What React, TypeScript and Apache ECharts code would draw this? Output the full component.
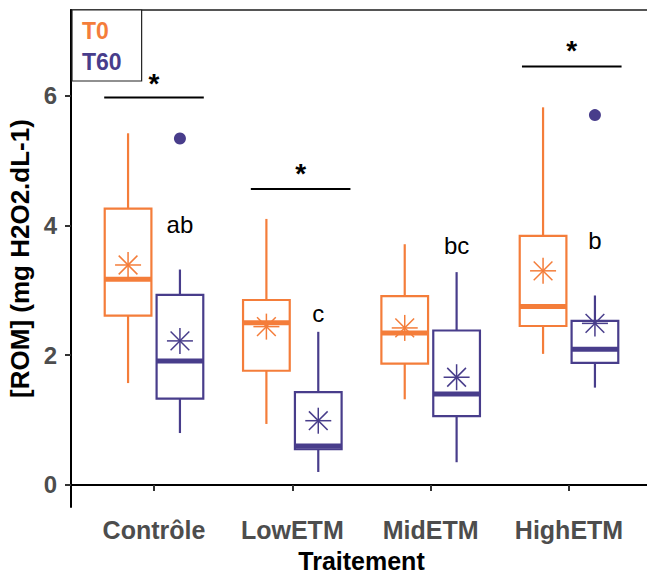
import React, { useEffect, useRef } from "react";
import * as echarts from "echarts";

// ---------- data ----------
const categories = ["Contrôle", "LowETM", "MidETM", "HighETM"];
const groups = ["T0", "T60"];

// [min whisker, Q1, median, Q3, max whisker]
const t0Stats = [
  [1.57, 2.61, 3.17, 4.26, 5.42],
  [0.94, 1.76, 2.5, 2.85, 4.1],
  [1.32, 1.87, 2.34, 2.91, 3.71],
  [2.02, 2.45, 2.75, 3.84, 5.82],
];
const t60Stats = [
  [0.8, 1.33, 1.91, 2.93, 3.32],
  [0.2, 0.55, 0.6, 1.43, 2.36],
  [0.35, 1.06, 1.4, 2.38, 3.28],
  [1.5, 1.88, 2.09, 2.53, 2.92],
];
const t0Means = [3.39, 2.44, 2.42, 3.3];
const t60Means = [2.22, 0.99, 1.66, 2.49];
// outliers: [category index, value]
const t60Outliers = [
  [0, 5.34],
  [3, 5.7],
];

// significance brackets between T0 and T60
const sigCategory = [0, 1, 3];
const sigCenterShift = [0.0, 0.06, 0.02];
const sigLineY = [5.97, 4.56, 6.45];
const sigStarY = [6.19, 4.8, 6.69];
const sigLabel = ["*", "*", "*"];

// letters of post-hoc groups (T60)
const letters = ["ab", "c", "bc", "b"];
const letterY = [4.01, 2.64, 3.69, 3.77];

const yTicks = [0, 2, 4, 6];

// ---------- style ----------
const ORANGE = "#F47D3A";
const PURPLE = "#483D8B";
const FONT = "'Liberation Sans', Arial, Helvetica, sans-serif";
const DODGE = 0.1875;
const BOX_W = 0.3375;
const SIG_HALF = 0.36;

function boxRenderer(color: string) {
  return (params: any, api: any) => {
    const x = api.value(0);
    const lo = api.coord([x, api.value(1)]);
    const q1 = api.coord([x, api.value(2)]);
    const med = api.coord([x, api.value(3)]);
    const q3 = api.coord([x, api.value(4)]);
    const hi = api.coord([x, api.value(5)]);
    const mean = api.coord([x, api.value(6)]);
    const hw = api.size([BOX_W, 0])[0] / 2;
    const cx = med[0];
    const r = 13;
    const d = r * 0.72;
    const ls = { stroke: color, lineWidth: 2.2 };
    const ss = { stroke: color, lineWidth: 1.5 };
    return {
      type: "group",
      children: [
        { type: "line", shape: { x1: cx, y1: q3[1], x2: cx, y2: hi[1] }, style: ls },
        { type: "line", shape: { x1: cx, y1: q1[1], x2: cx, y2: lo[1] }, style: ls },
        {
          type: "rect",
          shape: { x: cx - hw, y: q3[1], width: hw * 2, height: q1[1] - q3[1] },
          style: { fill: "#fff", stroke: color, lineWidth: 2.2 },
        },
        {
          type: "line",
          shape: { x1: cx - hw, y1: med[1], x2: cx + hw, y2: med[1] },
          style: { stroke: color, lineWidth: 5 },
        },
        { type: "line", shape: { x1: cx - r, y1: mean[1], x2: cx + r, y2: mean[1] }, style: ss },
        { type: "line", shape: { x1: cx, y1: mean[1] - r, x2: cx, y2: mean[1] + r }, style: ss },
        { type: "line", shape: { x1: cx - d, y1: mean[1] - d, x2: cx + d, y2: mean[1] + d }, style: ss },
        { type: "line", shape: { x1: cx - d, y1: mean[1] + d, x2: cx + d, y2: mean[1] - d }, style: ss },
      ],
    };
  };
}

export default function App() {
  const ref = useRef<HTMLDivElement>(null);
  useEffect(() => {
    document.body.style.margin = "0";
    if (!ref.current) return;
    const chart = echarts.init(ref.current, undefined, { renderer: "svg" });

    const t0Data = categories.map((_, i) => [i + 1 - DODGE, ...t0Stats[i], t0Means[i]]);
    const t60Data = categories.map((_, i) => [i + 1 + DODGE, ...t60Stats[i], t60Means[i]]);
    const outlierData = t60Outliers.map(([c, v]) => [c + 1 + DODGE, v]);
    const sigData = sigCategory.map((c, k) => [c + 1 + sigCenterShift[k], sigLineY[k], sigStarY[k], k]);
    const letterData = categories.map((_, i) => [i + 1 + DODGE, letterY[i], i]);

    const option: any = {
      animation: false,
      backgroundColor: "#fff",
      textStyle: { fontFamily: FONT },
      grid: { left: 71, top: 10, width: 581, height: 497, containLabel: false, outerBoundsMode: "none" },
      legend: {
        orient: "vertical",
        left: 72,
        top: 10,
        itemWidth: 0,
        itemHeight: 0,
        itemGap: 8,
        padding: [9, 20, 8, 5],
        borderColor: "#222",
        borderWidth: 1.2,
        backgroundColor: "#fff",
        selectedMode: false,
        textStyle: { fontSize: 23, fontWeight: "bold", fontFamily: FONT },
        data: [
          { name: groups[0], textStyle: { color: ORANGE } },
          { name: groups[1], textStyle: { color: PURPLE } },
        ],
      },
      xAxis: {
        type: "value",
        min: 0.4,
        max: 4.6,
        name: "Traitement",
        nameLocation: "middle",
        nameGap: 41,
        nameTextStyle: { fontSize: 25, fontWeight: "bold", color: "#000", fontFamily: FONT },
        axisLine: { show: true, lineStyle: { color: "#000", width: 2 } },
        axisTick: { show: true, length: 6, lineStyle: { color: "#333", width: 2 }, customValues: [1, 2, 3, 4] },
        axisLabel: {
          customValues: [1, 2, 3, 4],
          formatter: (v: number) => categories[Math.round(v) - 1] ?? "",
          fontSize: 25,
          fontWeight: "bold",
          color: "#4d4d4d",
          margin: 10,
          fontFamily: FONT,
        },
        splitLine: { show: false },
      },
      yAxis: {
        type: "value",
        min: -0.34,
        max: 7.32,
        name: "[ROM] (mg H2O2.dL-1)",
        nameLocation: "middle",
        nameGap: 30,
        nameTextStyle: { fontSize: 26, fontWeight: "bold", color: "#000", fontFamily: FONT },
        axisLine: { show: true, lineStyle: { color: "#000", width: 2 } },
        axisTick: { show: true, length: 6, lineStyle: { color: "#333", width: 2 }, customValues: yTicks },
        axisLabel: {
          customValues: yTicks,
          fontSize: 24,
          fontWeight: "bold",
          color: "#4d4d4d",
          margin: 14,
          fontFamily: FONT,
        },
        splitLine: { show: false },
      },
      series: [
        {
          name: groups[0],
          type: "custom",
          color: ORANGE,
          renderItem: boxRenderer(ORANGE),
          data: t0Data,
          encode: { x: 0, y: [1, 2, 3, 4, 5, 6] },
          z: 2,
        },
        {
          name: groups[1],
          type: "custom",
          color: PURPLE,
          renderItem: boxRenderer(PURPLE),
          data: t60Data,
          encode: { x: 0, y: [1, 2, 3, 4, 5, 6] },
          z: 2,
        },
        {
          name: groups[1],
          type: "scatter",
          data: outlierData,
          symbol: "circle",
          symbolSize: 12,
          itemStyle: { color: PURPLE, opacity: 1 },
          z: 3,
        },
        {
          name: "sig",
          type: "custom",
          silent: true,
          data: sigData,
          encode: { x: 0, y: [1, 2] },
          renderItem: (params: any, api: any) => {
            const xc = api.value(0);
            const a = api.coord([xc - SIG_HALF, api.value(1)]);
            const b = api.coord([xc + SIG_HALF, api.value(1)]);
            const s = api.coord([xc, api.value(2)]);
            const k = api.value(3);
            return {
              type: "group",
              children: [
                { type: "line", shape: { x1: a[0], y1: a[1], x2: b[0], y2: b[1] }, style: { stroke: "#000", lineWidth: 2 } },
                {
                  type: "text",
                  x: s[0],
                  y: s[1],
                  style: {
                    text: sigLabel[k],
                    fill: "#000",
                    fontSize: 28,
                    fontWeight: "bold",
                    fontFamily: FONT,
                    align: "center",
                    verticalAlign: "middle",
                  },
                },
              ],
            };
          },
        },
        {
          name: "letters",
          type: "custom",
          silent: true,
          data: letterData,
          encode: { x: 0, y: 1 },
          renderItem: (params: any, api: any) => {
            const p = api.coord([api.value(0), api.value(1)]);
            return {
              type: "text",
              x: p[0],
              y: p[1],
              style: {
                text: letters[api.value(2)],
                fill: "#000",
                fontSize: 24,
                fontFamily: FONT,
                align: "center",
                verticalAlign: "middle",
              },
            };
          },
        },
      ],
      graphic: [
        {
          type: "line",
          shape: { x1: 70, y1: 10, x2: 647, y2: 10 },
          style: { stroke: "#555", lineWidth: 2 },
          z: 0,
        },
      ],
    };
    chart.setOption(option);
    return () => chart.dispose();
  }, []);
  return <div ref={ref} style={{ width: 647, height: 576 }} />;
}
